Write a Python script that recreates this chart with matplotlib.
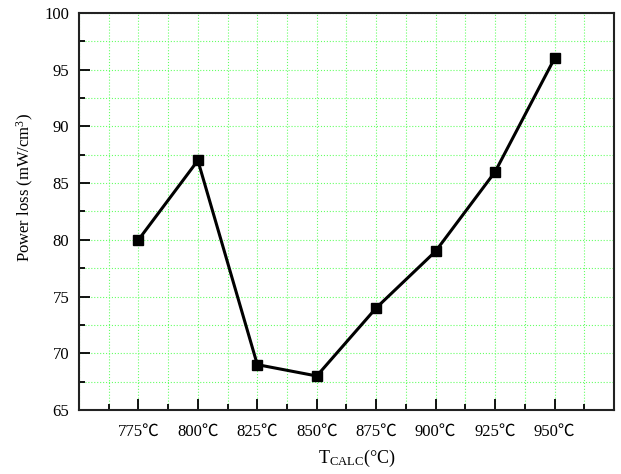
import numpy as np
import matplotlib
matplotlib.use('Agg')
import matplotlib.pyplot as plt
from matplotlib.ticker import MultipleLocator

plt.rcParams['font.family'] = ['Liberation Serif', 'Noto Sans CJK SC']
plt.rcParams['mathtext.fontset'] = 'custom'
plt.rcParams['mathtext.rm'] = 'Liberation Serif'
plt.rcParams['mathtext.default'] = 'regular'

# 数据
temps = ['775℃', '800℃', '825℃', '850℃', '875℃', '900℃', '925℃', '950℃']
power_loss = [80, 87, 69, 68, 74, 79, 86, 96]

x = np.arange(1, len(temps) + 1)

fig = plt.figure(figsize=(6.21, 4.74), dpi=100)
ax = fig.add_axes([0.1272, 0.135, 0.8615, 0.8376])

ax.plot(x, power_loss, color='black', linewidth=2.2, marker='s', markersize=6.5)

ax.set_xlim(0, len(temps) + 1)
ax.set_ylim(65, 100)
ax.set_xticks(x)
ax.set_xticklabels(temps)
ax.xaxis.set_minor_locator(MultipleLocator(0.5))
ax.yaxis.set_major_locator(MultipleLocator(5))
ax.yaxis.set_minor_locator(MultipleLocator(2.5))

ax.grid(which='both', color='#66ff66', linestyle=':', linewidth=0.8)
ax.set_axisbelow(True)

ax.tick_params(which='both', direction='in', top=False, right=False, labelsize=12, width=1.3)
ax.tick_params(which='major', length=8)
ax.tick_params(which='minor', length=4)
ax.tick_params(axis='x', pad=10)
ax.tick_params(axis='y', pad=7)
for s in ax.spines.values():
    s.set_linewidth(1.5)
    s.set_color('#222222')

ax.set_xlabel('T$_{CALC}$(°C)', fontsize=13)
ax.set_ylabel('Power loss (mW/cm$^{3}$)', fontsize=12)
ax.xaxis.set_label_coords(0.52, -0.095)
ax.yaxis.set_label_coords(-0.08, 0.56)

fig.savefig('out.png', dpi=100)
